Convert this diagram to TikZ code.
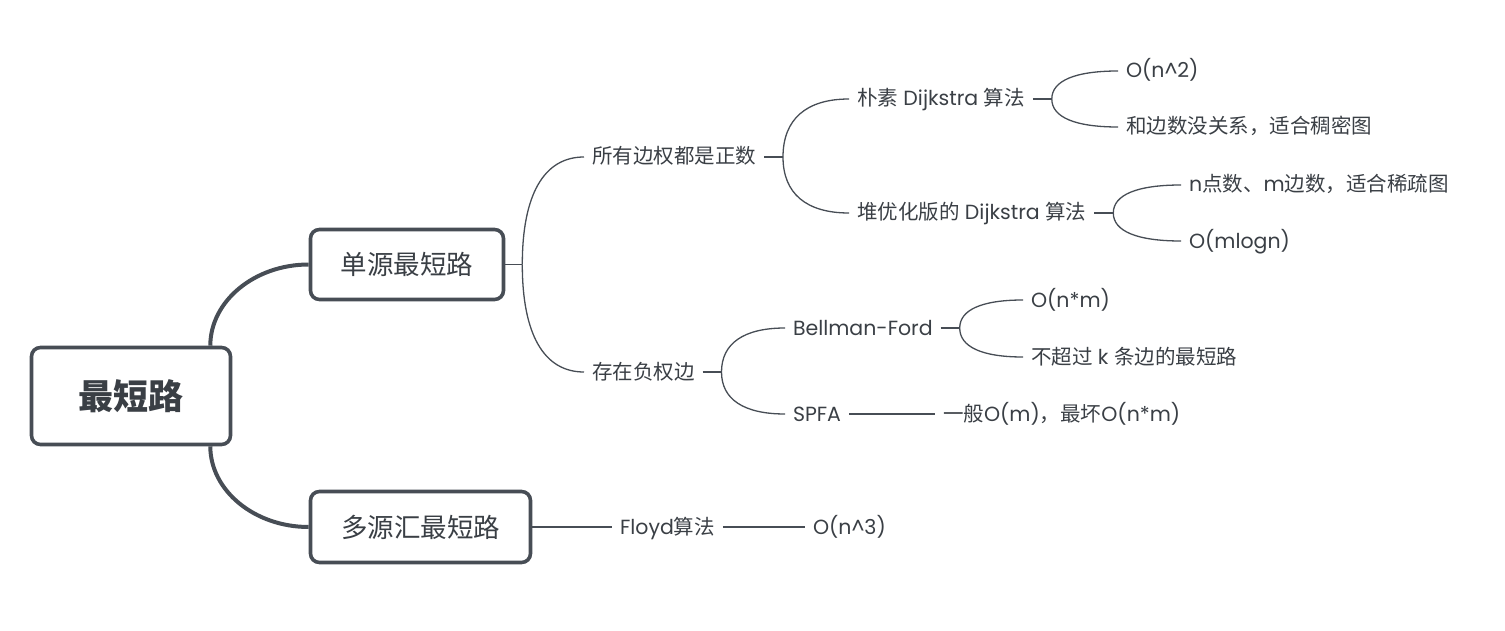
\documentclass[tikz,border=0pt]{standalone}
\usepackage{fontspec}
\setmainfont{Poppins}
\newfontfamily\cjk{Noto Sans CJK SC}
\usetikzlibrary{calc}
\definecolor{edgegray}{HTML}{474D55}
\definecolor{textgray}{HTML}{3A3F45}
\newcommand{\zh}[1]{{\cjk #1}}
\tikzstyle{topic} = [draw=edgegray, line width=3.6pt, rounded corners=9pt, fill=white, text=textgray, inner sep=0pt]
\tikzstyle{leaf} = [anchor=west, inner sep=0pt, outer xsep=8pt, text height=14pt, text depth=0pt, text=textgray, font=\fontsize{20.5}{24}\selectfont]
\tikzstyle{thin} = [draw=edgegray, line width=1.3pt]
\tikzstyle{thick} = [draw=edgegray, line width=4pt]
% curved branch from a junction to a child's west side
\newcommand{\branch}[4][0.65]{%
  \draw[#2] (#3) .. controls ($(#3)!#1!(#3 |- #4.west)$) and ($(#4.west)!#1!(#3 |- #4.west)$) .. (#4.west);}

\begin{document}
\begin{tikzpicture}[x=1pt, y=-1pt]
            \useasboundingbox (0,0) rectangle (1505,631);
            % main topics
            \node[topic, minimum width=199pt, minimum height=97pt, font=\fontsize{35}{40}\selectfont\cjk\bfseries] (root) at (131,396) {最短路};
            \node[topic, minimum width=193pt, minimum height=70pt, font=\fontsize{26.5}{30}\selectfont\cjk] (single) at (407,264.5) {单源最短路};
            \node[topic, minimum width=220pt, minimum height=71pt, font=\fontsize{26.5}{30}\selectfont\cjk] (multi) at (420.5,527) {多源汇最短路};
            % leaves
            \node[leaf] (pos) at (584,157) {\zh{所有边权都是正数}};
            \node[leaf] (neg) at (584,372) {\zh{存在负权边}};
            \node[leaf] (naive) at (849,99) {\zh{朴素} Dijkstra \zh{算法}};
            \node[leaf] (heap) at (849,213) {\zh{堆优化版的} Dijkstra \zh{算法}};
            \node[leaf] (naivea) at (1118,71) {O(n\textasciicircum 2)};
            \node[leaf] (naiveb) at (1118,127) {\zh{和边数没关系，适合稠密图}};
            \node[leaf] (heapa) at (1181,185) {n\zh{点数、}m\zh{边数，适合稀疏图}};
            \node[leaf] (heapb) at (1181,241) {O(mlogn)};
            \node[leaf] (bf) at (785,328) {Bellman-Ford};
            \node[leaf] (spfa) at (785,414) {SPFA};
            \node[leaf] (bfa) at (1023,300) {O(n*m)};
            \node[leaf] (bfb) at (1023,357) {\zh{不超过} k \zh{条边的最短路}};
            \node[leaf] (spfaa) at (935,414) {\zh{一般}O(m)\zh{，最坏}O(n*m)};
            \node[leaf] (floyd) at (612,527) {Floyd\zh{算法}};
            \node[leaf] (floyda) at (805,527) {O(n\textasciicircum 3)};
            % junctions
            \coordinate (rtop) at ($(root.north east)+(-22,0)$);
            \coordinate (rbot) at ($(root.south east)+(-22,0)$);
            \coordinate (j0) at ($(single.east)+(17,0)$);
            \coordinate (j1) at ($(pos.east)+(19,0)$);
            \coordinate (j2) at ($(neg.east)+(19,0)$);
            \coordinate (j3) at ($(naive.east)+(19,0)$);
            \coordinate (j4) at ($(heap.east)+(19,0)$);
            \coordinate (j5) at ($(bf.east)+(19,0)$);
            % thick branches
            \branch[0.55]{thick}{rtop}{single}
            \branch[0.55]{thick}{rbot}{multi}
            % thin branches
            \draw[thin] (single.east) -- (j0);
            \branch{thin}{j0}{pos}
            \branch{thin}{j0}{neg}
            \draw[thin] (pos.east) -- (j1);
            \branch{thin}{j1}{naive}
            \branch{thin}{j1}{heap}
            \draw[thin] (naive.east) -- (j3);
            \branch{thin}{j3}{naivea}
            \branch{thin}{j3}{naiveb}
            \draw[thin] (heap.east) -- (j4);
            \branch{thin}{j4}{heapa}
            \branch{thin}{j4}{heapb}
            \draw[thin] (neg.east) -- (j2);
            \branch{thin}{j2}{bf}
            \branch{thin}{j2}{spfa}
            \draw[thin] (bf.east) -- (j5);
            \branch{thin}{j5}{bfa}
            \branch{thin}{j5}{bfb}
            \draw[thin] (spfa.east) -- (spfaa.west);
            \draw[thin] (multi.east) -- (floyd.west);
            \draw[thin] (floyd.east) -- (floyda.west);
\end{tikzpicture}
\end{document}
